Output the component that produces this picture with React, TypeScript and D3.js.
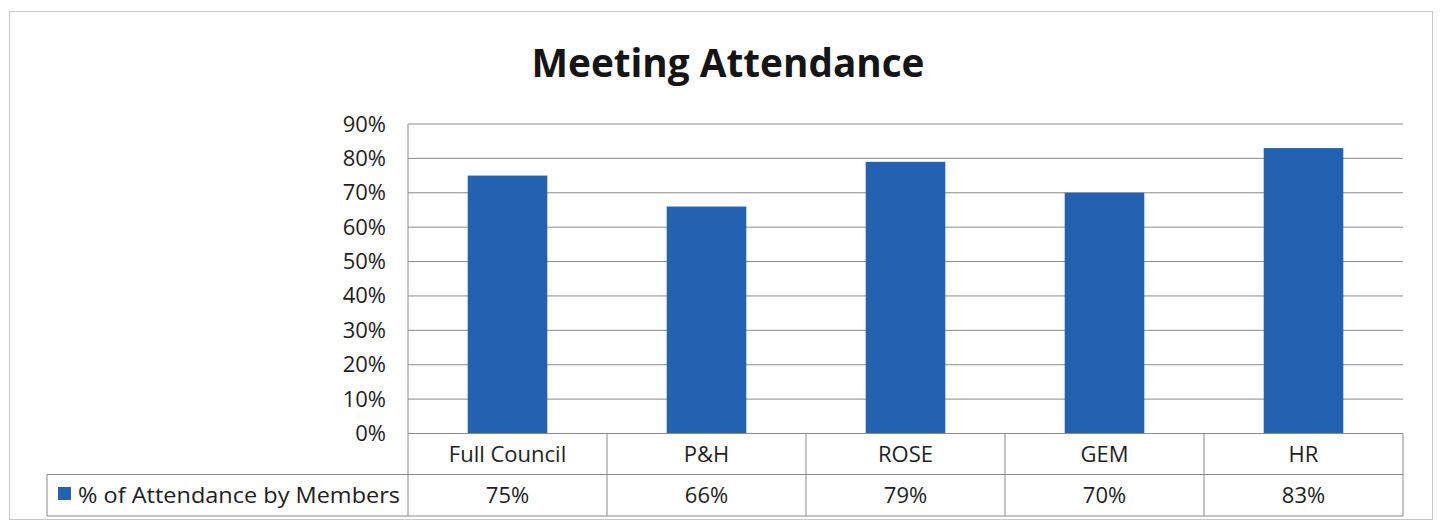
import React from "react";
import * as d3 from "d3";

const categories = ["Full Council", "P&H", "ROSE", "GEM", "HR"];
const values = [75, 66, 79, 70, 83];
const valueLabels = ["75%", "66%", "79%", "70%", "83%"];
const yTicks = [0, 10, 20, 30, 40, 50, 60, 70, 80, 90];
const seriesName = "% of Attendance by Members";
const title = "Meeting Attendance";

const W = 1441;
const H = 524;
const plotLeft = 408;
const plotRight = 1403;
const plotTop = 124;
const plotBottom = 433.5;
const row1Bottom = 474.5;
const row2Bottom = 516;
const legendLeft = 47;
const barColor = "#2361b1";
const gridColor = "#8a8a8a";
const textColor = "#1e1e1e";
const font = "'Open Sans', sans-serif";
const fs = 22;

export default function App() {
  const x = d3.scaleBand<string>().domain(categories).range([plotLeft, plotRight]).paddingInner(0.6).paddingOuter(0.3);
  const xCol = d3.scaleBand<string>().domain(categories).range([plotLeft, plotRight]).padding(0);
  const y = d3.scaleLinear().domain([0, 90]).range([plotBottom, plotTop]);

  return (
    <svg width={W} height={H} style={{ position: "absolute", left: 0, top: 0 }}>
      <rect x={0} y={0} width={W} height={H} fill="#fff" />
      <rect x={9.5} y={11.5} width={1423} height={508} fill="none" stroke="#c8c8c8" strokeWidth={1} />
      <text x={728} y={77} textAnchor="middle" fontFamily={font} fontWeight="bold" fontSize={40} fill="#151515" textLength={393} lengthAdjust="spacingAndGlyphs">
        {title}
      </text>
      {yTicks.map((t) => (
        <g key={t}>
          {t > 0 && (
            <line x1={plotLeft} x2={plotRight} y1={y(t)} y2={y(t)} stroke={gridColor} strokeWidth={1} />
          )}
          <text x={386} y={y(t) + 7.5} textAnchor="end" fontFamily={font} fontSize={fs} fill={textColor}>
            {t}%
          </text>
        </g>
      ))}
      {categories.map((c, i) => (
        <rect key={c} x={x(c)} y={y(values[i])} width={x.bandwidth()} height={plotBottom - y(values[i])} fill={barColor} />
      ))}
      {/* table */}
      <line x1={plotLeft} x2={plotRight} y1={plotBottom} y2={plotBottom} stroke={gridColor} strokeWidth={1} />
      <line x1={legendLeft} x2={plotRight} y1={row1Bottom} y2={row1Bottom} stroke={gridColor} strokeWidth={1} />
      <line x1={legendLeft} x2={plotRight} y1={row2Bottom} y2={row2Bottom} stroke={gridColor} strokeWidth={1} />
      <line x1={legendLeft} x2={legendLeft} y1={row1Bottom} y2={row2Bottom} stroke={gridColor} strokeWidth={1} />
      <line x1={plotLeft} x2={plotLeft} y1={plotTop} y2={row2Bottom} stroke={gridColor} strokeWidth={1} />
      {categories.map((c) => (
        <line key={c} x1={(xCol(c) as number) + xCol.bandwidth()} x2={(xCol(c) as number) + xCol.bandwidth()} y1={plotBottom} y2={row2Bottom} stroke={gridColor} strokeWidth={1} />
      ))}
      {categories.map((c, i) => (
        <g key={c}>
          <text x={(xCol(c) as number) + xCol.bandwidth() / 2} y={462} textAnchor="middle" fontFamily={font} fontSize={fs} fill={textColor}>
            {c}
          </text>
          <text x={(xCol(c) as number) + xCol.bandwidth() / 2} y={503} textAnchor="middle" fontFamily={font} fontSize={fs} fill={textColor}>
            {valueLabels[i]}
          </text>
        </g>
      ))}
      <rect x={58} y={487} width={13} height={13} fill={barColor} />
      <text x={78} y={503} fontFamily={font} fontSize={fs} fill={textColor} textLength={322} lengthAdjust="spacingAndGlyphs">
        {seriesName}
      </text>
    </svg>
  );
}
